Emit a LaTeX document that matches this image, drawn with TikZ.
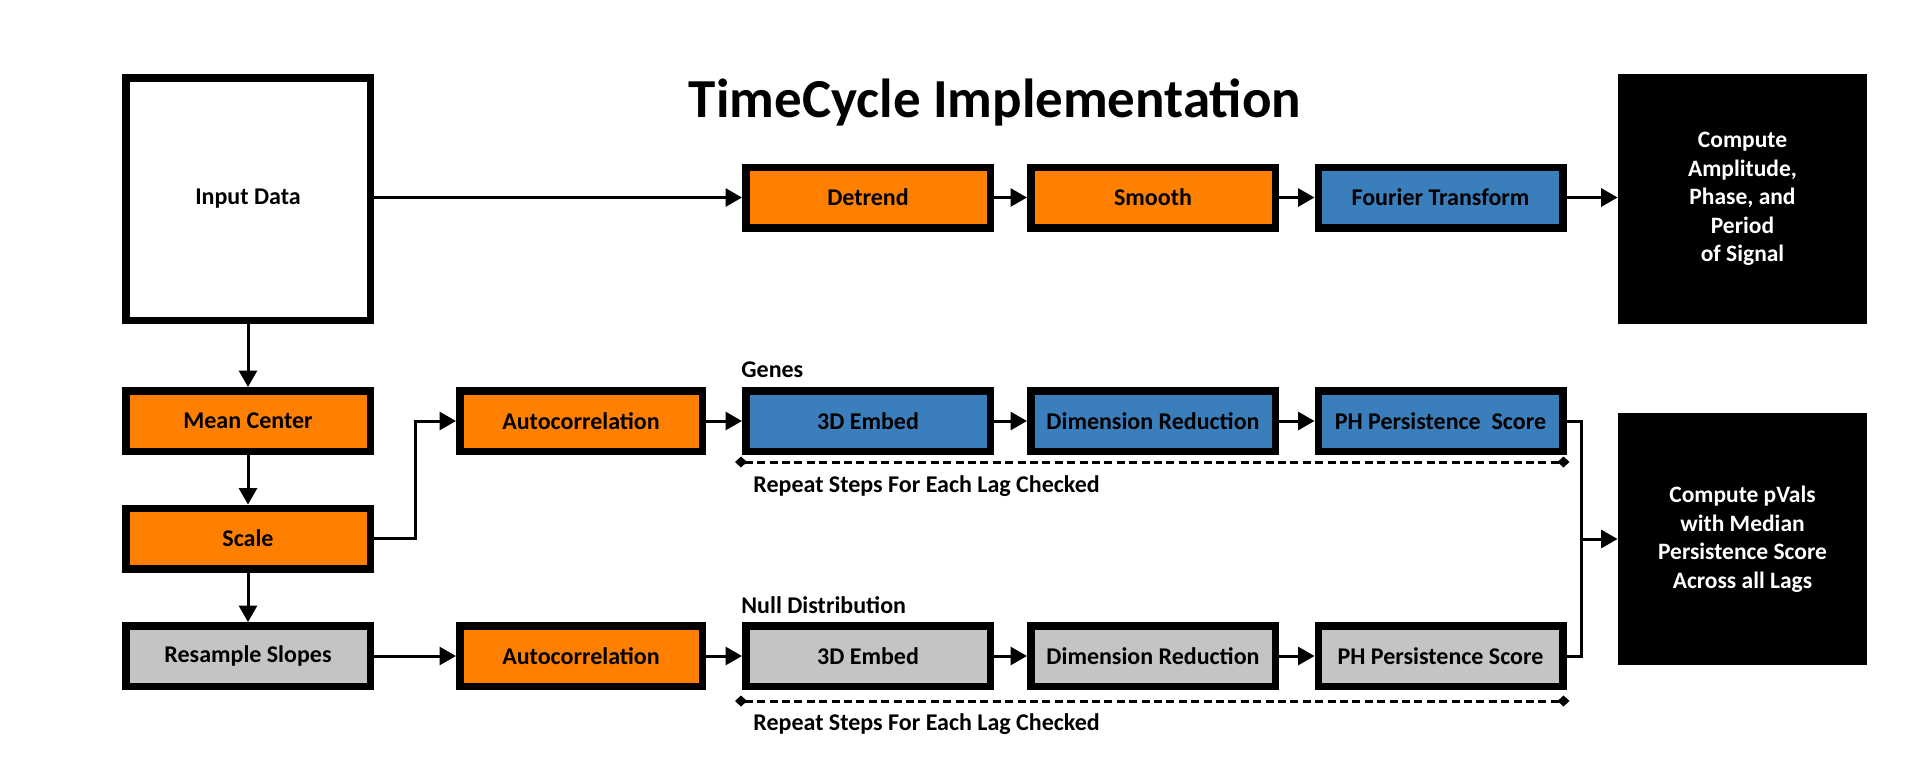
\documentclass[tikz,border=0pt]{standalone}
\usepackage{fontspec}
\setmainfont{Carlito}
\usetikzlibrary{arrows.meta}
\definecolor{tcorange}{RGB}{255,128,0}
\definecolor{tcblue}{RGB}{58,126,187}
\definecolor{tcgray}{RGB}{196,196,198}
\tikzset{
  box/.style={draw=black, line width=3.75pt, minimum width=122.25pt, minimum height=30.25pt,
    inner sep=0pt, align=center, font=\fontsize{12}{14}\selectfont\bfseries},
  obox/.style={box, fill=tcorange},
  bbox/.style={box, fill=tcblue},
  gbox/.style={box, fill=tcgray},
  blackbox/.style={fill=black, draw=none, text=white, inner sep=0pt, minimum width=124.5pt,
    minimum height=125pt, align=center, font=\fontsize{11.75}{14.25}\selectfont\bfseries},
  conn/.style={line width=1.5pt, -{Triangle[length=8.25pt,width=9pt]}},
  plainline/.style={line width=1.5pt},
  dashline/.style={line width=1.5pt, dash pattern=on 4pt off 2.2pt,
    {Diamond[length=6pt,width=5.5pt]}-{Diamond[length=6pt,width=5.5pt]}},
  lbl/.style={inner sep=0pt, font=\fontsize{12}{14}\selectfont\bfseries},
}
\begin{document}
\begin{tikzpicture}[x=0.5pt,y=-0.5pt]
\useasboundingbox[fill=white] (0,0) rectangle (1920,756);

% title
\node[anchor=base, inner sep=0pt, font=\fontsize{27.5}{32}\selectfont\bfseries] (title) at (995,117) {TimeCycle Implementation};

% boxes
\node[box, fill=white, minimum height=121.25pt] (input) at (248,199) {Input Data};
\node[obox] (detrend) at (868,197.5) {Detrend};
\node[obox] (smooth) at (1153,197.5) {Smooth};
\node[bbox] (fourier) at (1440.5,197.5) {Fourier Transform};
\node[blackbox] (amp) at (1742.5,199) {Compute\\Amplitude,\\Phase, and\\Period\\of Signal};

\node[obox] (mean) at (248,421) {Mean Center};
\node[obox] (scale) at (248,538.5) {Scale};
\node[gbox] (resample) at (248,656) {Resample Slopes};

\node[obox, minimum width=121.25pt] (auto1) at (581,421) {Autocorrelation};
\node[bbox] (embed1) at (868,421) {3D Embed};
\node[bbox] (dim1) at (1153,421) {Dimension Reduction};
\node[bbox] (ph1) at (1440.5,421) {PH Persistence\ \ Score};

\node[obox, minimum width=121.25pt] (auto2) at (581,656) {Autocorrelation};
\node[gbox] (embed2) at (868,656) {3D Embed};
\node[gbox] (dim2) at (1153,656) {Dimension Reduction};
\node[gbox] (ph2) at (1440.5,656) {PH Persistence Score};

\node[blackbox, minimum height=126pt] (pvals) at (1742.5,539) {Compute pVals\\with Median\\Persistence Score\\Across all Lags};

% labels
\node[lbl, anchor=base west] (genes) at (741,377) {Genes};
\node[lbl, anchor=base west] (null) at (741,613) {Null Distribution};
\node[lbl, anchor=base west] (rep1) at (753,492) {Repeat Steps For Each Lag Checked};
\node[lbl, anchor=base west] (rep2) at (753,730) {Repeat Steps For Each Lag Checked};

% top row connectors
\draw[conn] (input.east |- detrend.west) -- (detrend.west);
\draw[conn] (detrend) -- (smooth);
\draw[conn] (smooth) -- (fourier);
\draw[conn] (fourier.east) -- (fourier.east -| amp.west);

% left column
\draw[conn] (input) -- (mean);
\draw[conn] (mean) -- (scale);
\draw[conn] (scale) -- (resample);

% scale to autocorrelation
\draw[conn] (scale.east) -- ++(41,0) |- (auto1.west);
\draw[conn] (resample) -- (auto2);

% gene row
\draw[conn] (auto1) -- (embed1);
\draw[conn] (embed1) -- (dim1);
\draw[conn] (dim1) -- (ph1);
% null row
\draw[conn] (auto2) -- (embed2);
\draw[conn] (embed2) -- (dim2);
\draw[conn] (dim2) -- (ph2);

% merge to pvals
\path (ph1.east) ++(15,0) coordinate (jx);
\coordinate (join) at (jx |- pvals.west);
\draw[plainline] (ph1.east) -- (jx) |- (ph2.east);
\draw[conn] (join) -- (pvals.west);

% dashed repeat lines
\coordinate (d1a) at ([xshift=-3.5pt,yshift=-3.5pt]embed1.south west);
\coordinate (d1b) at ([xshift=1.5pt,yshift=-3.5pt]ph1.south east);
\coordinate (d2a) at ([xshift=-3.5pt,yshift=-5.5pt]embed2.south west);
\coordinate (d2b) at ([xshift=1.5pt,yshift=-5.5pt]ph2.south east);
\draw[dashline] (d1a) -- (d1b);
\draw[dashline] (d2a) -- (d2b);
\end{tikzpicture}
\end{document}
